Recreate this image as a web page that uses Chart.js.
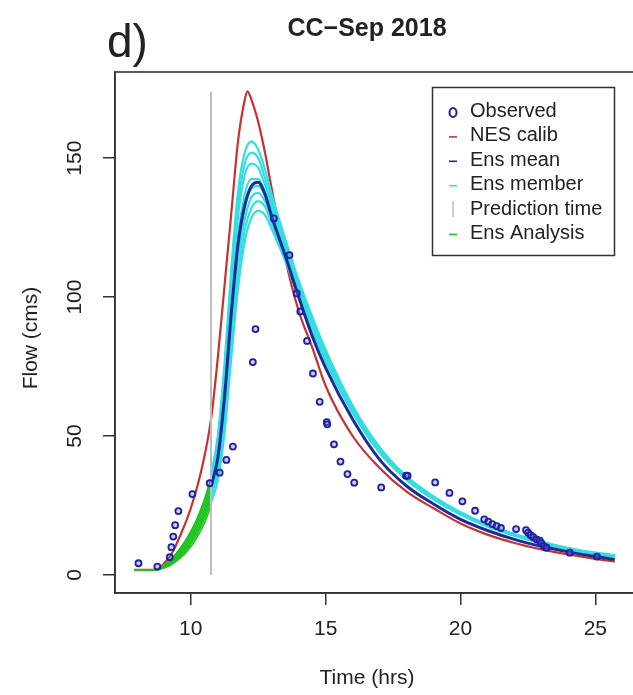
<!DOCTYPE html>
<html>
<head>
<meta charset="utf-8">
<script src="https://cdn.jsdelivr.net/npm/chart.js@4.4.0/dist/chart.umd.min.js"></script>
<style>
  html, body { margin: 0; padding: 0; background: #fff; overflow: hidden; }
  canvas { display: block; }
</style>
</head>
<body>
<canvas id="grafico-vazao" width="640" height="695"></canvas>
<script>
// vazões observadas (horas, m3/s)
const tempoObservado = [8.06, 8.76, 9.22, 9.28, 9.35, 9.42, 9.54, 10.06, 10.7, 11.07, 11.32, 11.56, 12.3, 12.4,
  13.08, 13.66, 13.93, 14.06, 14.31, 14.53, 14.78, 15.04, 15.06, 15.31, 15.55, 15.81, 16.06, 17.06, 17.98, 18.04,
  19.06, 19.59, 20.07, 20.54, 20.88, 21.03, 21.18, 21.34, 21.5, 22.06, 22.43, 22.51, 22.6, 22.7, 22.82, 22.94,
  23.0, 23.09, 23.19, 24.05, 25.06]
const vazaoObservada = [4.2, 3.0, 6.4, 10.0, 13.8, 17.9, 23.0, 29.1, 33.0, 36.8, 41.4, 46.2, 76.6, 88.5,
  128.3, 115.1, 101.3, 94.8, 84.2, 72.5, 62.3, 55.0, 54.2, 47.0, 40.8, 36.3, 33.2, 31.5, 35.7, 35.7,
  33.3, 29.5, 26.5, 23.1, 20.0, 19.2, 18.3, 17.6, 16.9, 16.5, 16.1, 15.2, 14.3, 13.6, 12.8, 12.3,
  11.4, 10.4, 9.8, 8.0, 6.6]

// simulação com a calibração NES
const tempoCalib = [7.9, 8.7, 9.0, 9.3, 9.6, 10.0, 10.4, 10.75, 11.0, 11.25, 11.5, 11.75, 12.0, 12.1, 12.25,
  12.5, 12.75, 13.0, 13.5, 14.0, 14.5, 15.0, 16, 17, 18, 19, 20, 21, 22, 23, 24, 25, 25.72]
const vazaoCalib = [1.8, 1.8, 4, 7.8, 14, 24, 38, 56, 78, 104, 130, 156, 171, 174, 171,
  163, 152, 139, 114, 95, 82, 68, 50, 38.5, 30, 24, 18.5, 14.5, 11.5, 9.2, 7.4, 5.8, 4.8]

// previsão por ensemble a partir do instante de predição
const tempoPrevisao = [10.75, 11.0, 11.25, 11.5, 11.75, 12.0, 12.25, 12.5, 12.75, 13.0, 13.5, 14.0, 14.5, 15.0,
  16, 17, 18, 19, 20, 21, 22, 23, 24, 25, 25.72]
const vazaoMedia = [32, 42, 64, 94, 119, 133, 140, 141.3, 137, 129, 115, 100, 86, 74.5,
  56, 41.5, 32, 25.5, 20, 16, 12.8, 10.3, 8.3, 6.6, 5.6]
const membros = [
  [36, 50, 76, 110, 138, 152, 156, 153, 146, 137, 121, 106, 93, 81, 61, 46, 35.5, 28.3, 22.6, 18.2, 14.7, 11.9, 9.7, 8.0, 7.2],
  [35, 48, 73, 106, 133, 148, 152, 150, 143, 135, 120, 105, 92, 80.5, 60.5, 45.6, 35.2, 28.1, 22.4, 18.0, 14.6, 11.8, 9.6, 7.9, 7.1],
  [34, 46, 70, 102, 129, 144, 148, 146.5, 140.5, 133, 118.5, 104, 91, 79.5, 60, 45.2, 35, 27.9, 22.2, 17.9, 14.5, 11.7, 9.5, 7.8, 7.0],
  [33, 44, 66, 97, 122, 137, 142.5, 142.5, 138, 131, 117, 103, 90, 78.5, 59, 44.5, 34.5, 27.5, 22, 17.7, 14.3, 11.6, 9.4, 7.7, 6.9],
  [31, 41, 62, 92, 117, 132, 139, 140, 136.5, 129.5, 116, 102, 89.5, 78, 59, 44.5, 34.5, 27.5, 22, 17.7, 14.3, 11.6, 9.4, 7.7, 6.9],
  [30, 39, 59, 88, 113, 128, 136, 137.5, 134.5, 128, 115, 101.5, 89, 77.5, 58.5, 44.2, 34.3, 27.3, 21.8, 17.5, 14.2, 11.5, 9.3, 7.6, 6.8],
  [28, 37, 55, 83, 108, 124, 132, 134.5, 132.5, 126.5, 114, 101, 88.5, 77, 58.5, 44.2, 34.3, 27.3, 21.8, 17.5, 14.2, 11.5, 9.3, 7.6, 6.8],
  [26, 34, 51, 78, 103, 120, 128.5, 131, 129.5, 124.5, 113, 100, 88, 77, 58.5, 44, 34.2, 27.2, 21.7, 17.4, 14.1, 11.4, 9.2, 7.5, 6.7]
]

// análise do ensemble (assimilação) até o instante de predição
const tempoAnalise = [7.9, 8.7, 9.0, 9.3, 9.6, 9.9, 10.2, 10.5, 10.75]
const analises = [
  [1.8, 1.8, 2.5, 3.8, 6.0, 9.0, 13.0, 18.5, 25.0],
  [1.8, 1.8, 2.7, 4.2, 6.6, 9.9, 14.2, 20.0, 26.5],
  [1.8, 1.8, 2.8, 4.5, 7.1, 10.6, 15.1, 21.2, 28.0],
  [1.8, 1.8, 3.0, 4.9, 7.6, 11.3, 16.0, 22.4, 29.5],
  [1.8, 1.8, 3.1, 5.2, 8.1, 12.0, 17.0, 23.6, 31.0],
  [1.8, 1.8, 3.3, 5.5, 8.7, 12.8, 18.1, 25.0, 32.6],
  [1.8, 1.8, 3.4, 5.8, 9.2, 13.5, 19.0, 26.2, 34.0],
  [1.8, 1.8, 3.5, 6.0, 9.5, 14.0, 19.6, 27.0, 35.0]
]

const tempoPredicao = [10.75, 10.75]
const vazaoPredicao = [0, 174]

const ticksX = [10, 15, 20, 25]
const ticksY = [0, 50, 100, 150]

const FONTE = '"Liberation Sans", Arial, Helvetica, sans-serif'

const pares = (xs, ys) => xs.map((x, i) => ({ x, y: ys[i] }))

const datasets = []

datasets.push({
  label: 'Observed',
  legenda: 1,
  simbolo: 'o',
  data: pares(tempoObservado, vazaoObservada),
  showLine: false,
  pointStyle: 'circle',
  pointRadius: 3,
  pointBorderWidth: 1.8,
  borderColor: '#1f1fa3',
  pointBorderColor: '#1f1fa3',
  pointBackgroundColor: 'rgba(110, 110, 220, 0.35)',
  order: 0
})

datasets.push({
  label: 'Prediction time',
  legenda: 5,
  simbolo: '|',
  data: pares(tempoPredicao, vazaoPredicao),
  borderColor: '#bdbdbd',
  borderWidth: 2,
  pointRadius: 0,
  order: 1
})

analises.forEach((serie, i) => {
  datasets.push({
    label: 'Ens Analysis',
    legenda: i === 0 ? 6 : 0,
    simbolo: '-',
    data: pares(tempoAnalise, serie),
    borderColor: '#1ec41e',
    borderWidth: 1.6,
    pointRadius: 0,
    cubicInterpolationMode: 'monotone',
    order: 2
  })
})

datasets.push({
  label: 'Ens mean',
  legenda: 3,
  simbolo: '-',
  data: pares(tempoPrevisao, vazaoMedia),
  borderColor: '#1a2f96',
  borderWidth: 3,
  pointRadius: 0,
  cubicInterpolationMode: 'monotone',
  order: 3
})

membros.forEach((serie, i) => {
  datasets.push({
    label: 'Ens member',
    legenda: i === 0 ? 4 : 0,
    simbolo: '-',
    data: pares(tempoPrevisao, serie),
    borderColor: '#34dde2',
    borderWidth: 2.2,
    pointRadius: 0,
    cubicInterpolationMode: 'monotone',
    order: 4
  })
})

datasets.push({
  label: 'NES calib',
  legenda: 2,
  simbolo: '-',
  data: pares(tempoCalib, vazaoCalib),
  borderColor: '#c8312f',
  borderWidth: 2.2,
  pointRadius: 0,
  cubicInterpolationMode: 'monotone',
  order: 5
})

// caixa, rótulos dos eixos, títulos e legenda no estilo do R
const molduraR = {
  id: 'molduraR',
  afterDatasetsDraw(chart) {
    const { ctx, chartArea: a } = chart
    ctx.save()
    ctx.strokeStyle = '#333'
    ctx.lineWidth = 1.6
    ctx.strokeRect(a.left, a.top, a.right - a.left, a.bottom - a.top)
    ctx.restore()
  },
  afterDraw(chart) {
    const ctx = chart.ctx
    const sx = chart.scales.x
    const sy = chart.scales.y
    ctx.save()
    ctx.fillStyle = '#222'

    // rótulos dos ticks
    ctx.font = `21px ${FONTE}`
    ctx.textAlign = 'center'
    ctx.textBaseline = 'middle'
    ticksX.forEach(v => ctx.fillText(String(v), sx.getPixelForValue(v), 629))
    ticksY.forEach(v => {
      ctx.save()
      ctx.translate(75, sy.getPixelForValue(v))
      ctx.rotate(-Math.PI / 2)
      ctx.fillText(String(v), 0, 0)
      ctx.restore()
    })

    // títulos dos eixos
    ctx.fillText('Time (hrs)', 367, 678)
    ctx.save()
    ctx.translate(31, 338)
    ctx.rotate(-Math.PI / 2)
    ctx.fillText('Flow (cms)', 0, 0)
    ctx.restore()

    // título do painel
    ctx.textBaseline = 'alphabetic'
    ctx.font = `bold 25px ${FONTE}`
    ctx.fillText('CC\u2212Sep 2018', 367, 36)
    ctx.textAlign = 'left'
    ctx.font = `46px ${FONTE}`
    ctx.fillText('d)', 107, 57)

    // legenda
    const itens = chart.data.datasets.filter(d => d.legenda).sort((a, b) => a.legenda - b.legenda)
    ctx.strokeStyle = '#333'
    ctx.lineWidth = 1.5
    ctx.strokeRect(432.5, 87.5, 182, 168)
    ctx.font = `20px ${FONTE}`
    ctx.textBaseline = 'middle'
    itens.forEach((d, i) => {
      const y = 111.5 + i * 24.4
      const cx = 453
      ctx.strokeStyle = d.borderColor
      if (d.simbolo === 'o') {
        ctx.lineWidth = 2
        ctx.beginPath()
        ctx.ellipse(cx, y + 1, 3.5, 4.5, 0, 0, Math.PI * 2)
        ctx.stroke()
      } else if (d.simbolo === '|') {
        ctx.lineWidth = 1.5
        ctx.beginPath()
        ctx.moveTo(cx, y - 8)
        ctx.lineTo(cx, y + 8)
        ctx.stroke()
      } else {
        ctx.lineWidth = 1.6
        ctx.beginPath()
        ctx.moveTo(cx - 4, y + 1)
        ctx.lineTo(cx + 4, y + 1)
        ctx.stroke()
      }
      ctx.fillStyle = '#222'
      ctx.fillText(d.label, 470, y)
    })
    ctx.restore()
  }
}

const eixo = (min, max, ticks, fit) => ({
  type: 'linear',
  min,
  max,
  afterBuildTicks: s => { s.ticks = ticks.map(v => ({ value: v })) },
  afterFit: fit,
  ticks: { display: false },
  grid: { drawOnChartArea: false, drawTicks: true, tickLength: 12, color: '#333', lineWidth: 1.5 },
  border: { display: true, color: '#333', width: 1.6 }
})

new Chart(document.getElementById('grafico-vazao').getContext('2d'), {
  type: 'line',
  data: { datasets },
  options: {
    responsive: false,
    animation: false,
    devicePixelRatio: 1,
    layout: { padding: { left: 0, top: 72, right: 4, bottom: 0 } },
    scales: {
      x: eixo(7.19, 26.44, ticksX, s => { s.height = 102 }),
      y: eixo(-6.5, 181, ticksY, s => { s.width = 115 })
    },
    plugins: { legend: { display: false }, tooltip: { enabled: false } }
  },
  plugins: [molduraR]
})
</script>
</body>
</html>
